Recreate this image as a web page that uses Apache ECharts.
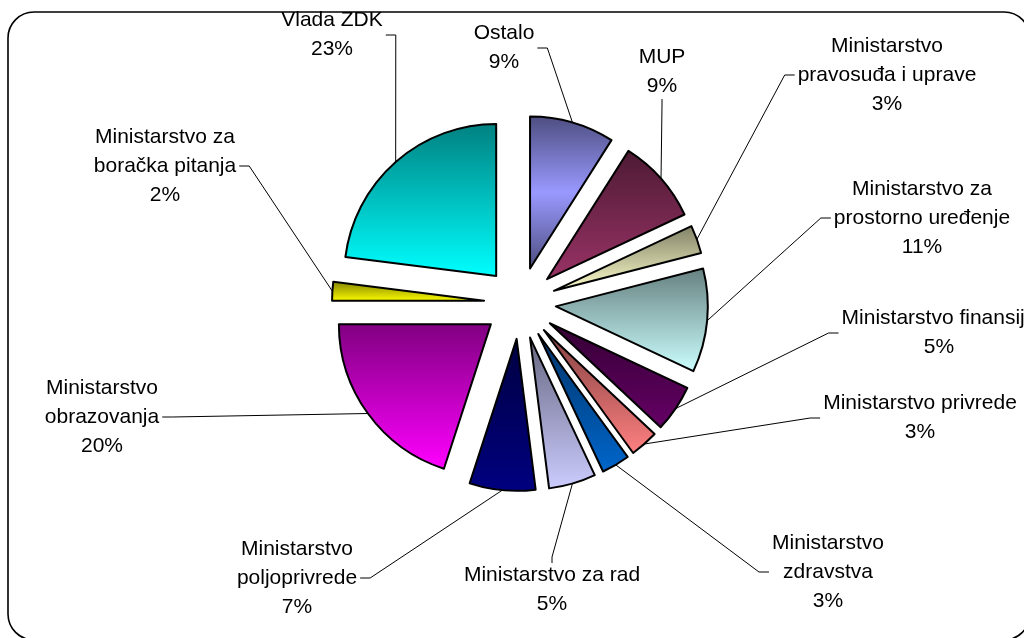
<!DOCTYPE html>
<html>
<head>
<meta charset="utf-8">
<script src="https://cdn.jsdelivr.net/npm/echarts@6/dist/echarts.min.js"></script>
<style>
  html, body { margin: 0; padding: 0; background: #fff; }
  #chart { width: 1024px; height: 638px; }
</style>
</head>
<body>
<div id="chart"></div>
<script>
  // slice names (line breaks as in the picture) and their shares in %
  const categories = [
    "Ostalo",
    "MUP",
    "Ministarstvo\npravosuđa i uprave",
    "Ministarstvo za\nprostorno uređenje",
    "Ministarstvo finansija",
    "Ministarstvo privrede",
    "Ministarstvo\nzdravstva",
    "Ministarstvo za rad",
    "Ministarstvo\npoljoprivrede",
    "Ministarstvo\nobrazovanja",
    "Ministarstvo za\nboračka pitanja",
    "Vlada ZDK",
  ];
  const shares = [9, 9, 3, 11, 5, 3, 3, 5, 7, 20, 2, 23];

  // fill: dark shade at the top of each slice, full colour at the bottom
  const topColors = ["#4d4d80", "#4d1a33", "#808066", "#668080", "#330033", "#804040",
    "#003366", "#666680", "#000040", "#800080", "#808000", "#008080"];
  const baseColors = ["#9999ff", "#993366", "#ffffcc", "#ccffff", "#660066", "#ff8080",
    "#0066cc", "#ccccff", "#000080", "#ff00ff", "#ffff00", "#00ffff"];

  // where each label block sits (centre, px) and which side its leader line leaves from
  const labelSpots = [
    [504, 48], [662, 72], [887, 75], [922, 218], [939, 333], [920, 418],
    [828, 572], [552, 590], [297, 578], [102, 417], [165, 166], [332, 35],
  ];
  const labelSides = ["right", "bottom", "left", "left", "left", "left",
    "left", "top", "right", "right", "right", "right"];

  const CX = 520, CY = 303, R = 152, EXPLODE = 36;
  const total = shares.reduce((a, b) => a + b, 0);

  function sliceFill(i) {
    // the first slice is shaded dark-light-dark
    const stops = i === 0
      ? [{ offset: 0, color: topColors[i] }, { offset: 0.5, color: baseColors[i] }, { offset: 1, color: topColors[i] }]
      : [{ offset: 0, color: topColors[i] }, { offset: 1, color: baseColors[i] }];
    return new echarts.graphic.LinearGradient(0, 0, 0, 1, stops);
  }

  function leaderLine(p, spot) {
    const w = p.labelRect.width, h = p.labelRect.height;
    const start = p.labelLinePoints[0];
    let anchor, tick;
    switch (labelSides[p.dataIndex]) {
      case "right": anchor = [spot[0] + w / 2 + 3, spot[1]]; tick = [anchor[0] + 10, anchor[1]]; break;
      case "left": anchor = [spot[0] - w / 2 - 3, spot[1]]; tick = [anchor[0] - 10, anchor[1]]; break;
      case "top": anchor = [spot[0], spot[1] - h / 2 + 2]; tick = [anchor[0], anchor[1] - 6]; break;
      default: anchor = [spot[0], spot[1] + h / 2 - 2]; tick = [anchor[0], anchor[1] + 6];
    }
    return [start, tick, anchor];
  }

  // one pie per slice, all sharing the same angles; each one shows only its own
  // slice, pushed out from the centre along that slice's middle angle
  const series = categories.map((name, i) => {
    const before = shares.slice(0, i).reduce((a, b) => a + b, 0);
    const mid = (before + shares[i] / 2) / total * 2 * Math.PI;
    return {
      type: "pie",
      silent: true,
      center: [CX + EXPLODE * Math.sin(mid), CY - EXPLODE * Math.cos(mid)],
      radius: R,
      startAngle: 90,
      clockwise: true,
      avoidLabelOverlap: false,
      percentPrecision: 0,
      label: {
        show: true,
        position: "outside",
        formatter: "{b}\n{d}%",
        color: "#000",
        fontFamily: "Liberation Sans, Arial, sans-serif",
        fontSize: 21,
        lineHeight: 29,
        align: "center",
      },
      labelLine: {
        show: true,
        length: 20,
        length2: 10,
        minTurnAngle: 0,
        lineStyle: { color: "#000", width: 1 },
      },
      labelLayout: function (p) {
        if (p.dataIndex !== i) return {};
        const spot = labelSpots[i];
        const out = { x: spot[0], y: spot[1], align: "center", verticalAlign: "middle" };
        if (p.labelLinePoints && p.labelLinePoints.length) {
          out.labelLinePoints = leaderLine(p, spot);
        }
        return out;
      },
      data: categories.map((n, j) => j === i
        ? { name: n, value: shares[j], itemStyle: { color: sliceFill(j), borderColor: "#000", borderWidth: 2 } }
        : {
            name: n, value: shares[j],
            itemStyle: { color: "rgba(0,0,0,0)", borderWidth: 0 },
            label: { show: false }, labelLine: { show: false },
          }),
    };
  });

  const chart = echarts.init(document.getElementById("chart"), null, { renderer: "canvas" });

  chart.setOption({
    animation: false,
    backgroundColor: "#fff",
    graphic: [{
      type: "rect",
      silent: true,
      z: -10,
      shape: { x: 8, y: 12, width: 1022, height: 628, r: 26 },
      style: { fill: "none", stroke: "#000", lineWidth: 1.6 },
    }],
    series: series,
  });
</script>
</body>
</html>
